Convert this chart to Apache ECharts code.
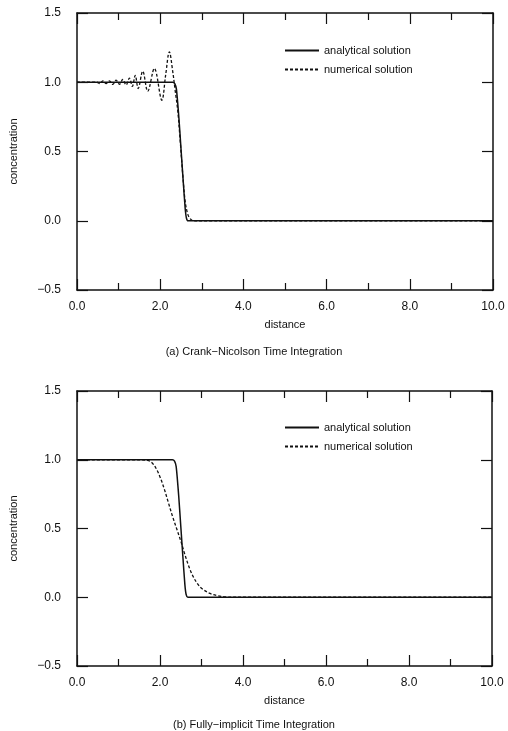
<!DOCTYPE html>
<html>
<head>
	<meta charset="utf-8">
	<title>concentration profiles</title>
	<style>
		html, body, #chart {
			margin: 0;
			padding: 0;
			width: 508px;
			height: 731px;
			background: #fff;
		}
	</style>
	<script src="https://cdn.jsdelivr.net/npm/echarts@6/dist/echarts.min.js"></script>
</head>
<body>
<div id="chart"></div>
<script>

// (a) Crank-Nicolson
var cnAnalytical = [
	[0, 1], [2.3, 1], [2.35, 0.99], [2.39, 0.95], [2.45, 0.74], [2.5, 0.52],
	[2.55, 0.3], [2.6, 0.09], [2.63, 0.02], [2.67, 0], [10, 0]
];
var cnNumerical = [
	[0, 1], [0.48, 1], [0.55, 0.99], [0.62, 1.01], [0.7, 0.99], [0.78, 1.01],
	[0.86, 0.985], [0.94, 1.015], [1.02, 0.985], [1.1, 1.02], [1.18, 0.98],
	[1.26, 1.03], [1.33, 0.97], [1.4, 1.05], [1.47, 0.955], [1.58, 1.08],
	[1.7, 0.935], [1.86, 1.1], [2.04, 0.87], [2.13, 1.05], [2.22, 1.22],
	[2.3, 1.08], [2.36, 0.94], [2.42, 0.8], [2.48, 0.58], [2.54, 0.34],
	[2.6, 0.14], [2.66, 0.05], [2.72, 0.015], [2.8, 0], [10, 0]
];

// (b) Fully-implicit
var fiAnalytical = [
	[0, 1], [2.3, 1], [2.35, 0.99], [2.39, 0.95], [2.45, 0.74], [2.5, 0.52],
	[2.55, 0.3], [2.6, 0.09], [2.63, 0.02], [2.67, 0], [10, 0]
];
var fiNumerical = [
	[0, 1], [1.5, 1], [1.7, 0.995], [1.8, 0.98], [1.9, 0.94], [2.0, 0.875],
	[2.1, 0.79], [2.2, 0.69], [2.3, 0.59], [2.4, 0.5], [2.5, 0.41],
	[2.6, 0.31], [2.7, 0.22], [2.8, 0.15], [2.9, 0.1], [3.0, 0.065],
	[3.2, 0.028], [3.4, 0.01], [3.6, 0.002], [3.8, 0], [10, 0]
];

var seriesNames = ['analytical solution', 'numerical solution'];
var captions = ['(a) Crank\u2212Nicolson Time Integration', '(b) Fully\u2212implicit Time Integration'];

var font = 'Liberation Sans, Arial, sans-serif';
var ink = '#111';

var grids = [
	{ left: 77, right: 15, top: 13, height: 277 },
	{ left: 76, right: 16, top: 391, height: 275 }
];

function fmt (v) {
	return v.toFixed(1).replace('-', '\u2212');
}

function xAxes (g) {
	var base = {
		gridIndex: g,
		type: 'value',
		min: 0,
		max: 10,
		interval: 2,
		splitLine: { show: false },
		axisLine: { onZero: false, lineStyle: { color: ink, width: 1.5 } },
		axisTick: { inside: true, length: 11, lineStyle: { color: ink, width: 1.2 } },
		minorTick: { show: true, splitNumber: 2, length: 7, lineStyle: { color: ink, width: 1.2 } }
	};
	var bottom = Object.assign({}, base, {
		position: 'bottom',
		name: 'distance',
		nameLocation: 'middle',
		nameGap: 29,
		nameTextStyle: { fontFamily: font, fontSize: 11, color: ink },
		axisLabel: { formatter: fmt, fontFamily: font, fontSize: 12, color: ink, margin: 11 }
	});
	var top = Object.assign({}, base, {
		position: 'top',
		axisLabel: { show: false }
	});
	return [bottom, top];
}

function yAxes (g) {
	var base = {
		gridIndex: g,
		type: 'value',
		min: -0.5,
		max: 1.5,
		interval: 0.5,
		splitLine: { show: false },
		axisLine: { show: true, onZero: false, lineStyle: { color: ink, width: 1.5 } },
		axisTick: { show: true, inside: true, length: 11, lineStyle: { color: ink, width: 1.2 } }
	};
	var left = Object.assign({}, base, {
		position: 'left',
		name: 'concentration',
		nameLocation: 'middle',
		nameGap: 58,
		nameTextStyle: { fontFamily: font, fontSize: 11, color: ink },
		axisLabel: { formatter: fmt, fontFamily: font, fontSize: 12, color: ink, margin: 16 }
	});
	var right = Object.assign({}, base, {
		position: 'right',
		axisLabel: { show: false }
	});
	return [left, right];
}

function lineSeries (name, data, g, dashed) {
	return {
		name: name,
		type: 'line',
		xAxisIndex: g * 2,
		yAxisIndex: g * 2,
		data: data,
		symbol: 'none',
		smooth: dashed ? 0.35 : 0.2,
		animation: false,
		lineStyle: {
			color: ink,
			width: dashed ? 1.3 : 1.5,
			type: dashed ? [3, 2] : 'solid'
		},
		itemStyle: { color: ink }
	};
}

function legendAt (top) {
	return {
		data: seriesNames, orient: 'vertical', left: 279, top: top,
		itemWidth: 34, itemHeight: 10, itemGap: 8,
		itemStyle: { opacity: 0 },
		textStyle: { fontFamily: font, fontSize: 11, color: ink },
		selectedMode: false
	};
}

var chart = echarts.init(document.getElementById('chart'));

chart.setOption({
	animation: false,
	backgroundColor: '#fff',
	title: [
		{ text: captions[0], left: 'center', top: 346, padding: 0, textStyle: { fontFamily: font, fontSize: 11, fontWeight: 'normal', color: ink } },
		{ text: captions[1], left: 'center', top: 719, padding: 0, textStyle: { fontFamily: font, fontSize: 11, fontWeight: 'normal', color: ink } }
	],
	legend: [legendAt(40), legendAt(417)],
	grid: grids,
	xAxis: xAxes(0).concat(xAxes(1)),
	yAxis: yAxes(0).concat(yAxes(1)),
	series: [
		lineSeries(seriesNames[0], cnAnalytical, 0, false),
		lineSeries(seriesNames[1], cnNumerical, 0, true),
		lineSeries(seriesNames[0], fiAnalytical, 1, false),
		lineSeries(seriesNames[1], fiNumerical, 1, true)
	]
});

</script>
</body>
</html>
